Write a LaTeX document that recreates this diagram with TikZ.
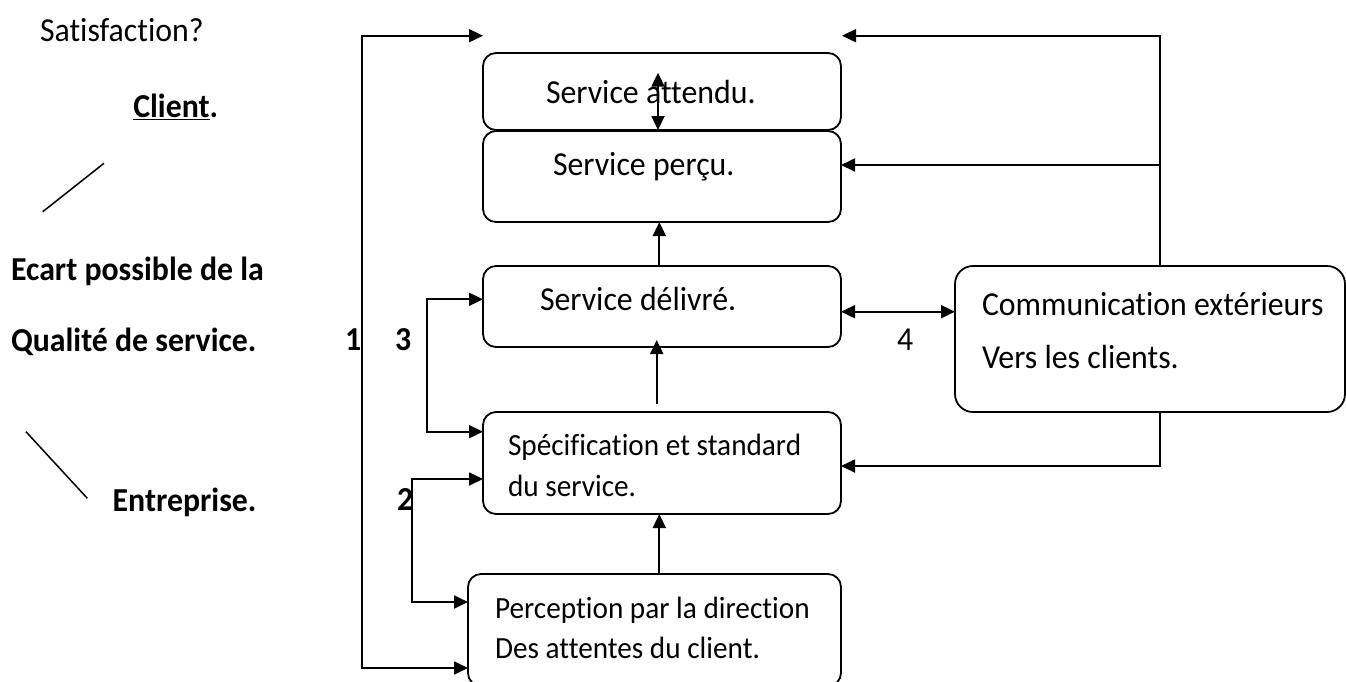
\documentclass[tikz,border=0pt]{standalone}
\usepackage{fontspec}
\setmainfont{Carlito}[Ligatures=NoCommon, FakeStretch=0.95]
\usetikzlibrary{arrows.meta,calc}
\tikzset{
  box/.style={draw, line width=1.8pt, rounded corners=13pt, inner sep=0pt, outer sep=0pt},
  lbl/.style={anchor=base west, inner sep=0pt, outer sep=0pt, font=\fontsize{33.5}{40}\selectfont},
  lblsmall/.style={lbl, font=\fontsize{30.8}{36}\selectfont},
  lblbold/.style={lbl, font=\fontsize{33.5}{40}\selectfont\bfseries},
  tip/.tip={Triangle[length=14pt,width=13pt]},
  conn/.style={line width=1.8pt, -tip},
  dconn/.style={line width=1.8pt, tip-tip},
  stroke/.style={line width=1.5pt},
}
\begin{document}
\begin{tikzpicture}[x=1pt,y=-1pt]
\useasboundingbox (0,0) rectangle (1346,681);

% boxes of the model
\node[box, minimum width=358pt, minimum height=77pt]  (att)  at (662,91.5)  {};
\node[box, minimum width=358pt, minimum height=91pt]  (per)  at (662,176.5) {};
\node[box, minimum width=358pt, minimum height=81pt]  (del)  at (662,306.5) {};
\node[box, minimum width=358pt, minimum height=102pt] (spec) at (662,463)   {};
\node[box, minimum width=373pt, minimum height=112pt] (perc) at (654.5,630) {};
\node[box, rounded corners=18pt, minimum width=390pt, minimum height=146pt] (comm) at (1150,339) {};

% box texts
\node[lbl] (tatt) at (546,103.5) {Service attendu.};
\node[lbl] (tper) at (553,175) {Service perçu.};
\node[lbl] (tdel) at (540,310.5) {Service délivré.};
\node[lblsmall] (tspecA) at (508,455) {Spécification et standard};
\node[lblsmall] (tspecB) at (508,496) {du service.};
\node[lblsmall] (tpercA) at (495,618) {Perception par la direction};
\node[lblsmall] (tpercB) at (495,658) {Des attentes du client.};
\node[lbl] (tcommA) at (982,315) {Communication extérieurs};
\node[lbl] (tcommB) at (982,368) {Vers les clients.};

% left column
\node[lbl] (sat) at (40,41.7) {Satisfaction?};
\node[lblbold] (cli) at (133.3,117.3) {\underline{Client}.};
\node[lblbold] (ecA) at (11,280) {Ecart possible de la};
\node[lblbold] (ecB) at (11,351.7) {Qualité de service.};
\node[lblbold] (ent) at (112.7,511.7) {Entreprise.};
\draw[stroke] (42.7,211.7) -- (104,163.3);
\draw[stroke] (26,431.7) -- (87.3,498.3);

% gap numbers
\node[lblbold] (n1) at (345,350.7) {1};
\node[lblbold] (n3) at (395,350.7) {3};
\node[lblbold] (n2) at (397,510) {2};
\node[lbl] (n4) at (897,350.7) {4};

% bend points
\coordinate (tl) at (483,35.7);
\coordinate (tr) at (842,35.7);
\coordinate (b1) at (362,668);
\coordinate (b2t) at (412,479);
\coordinate (b2b) at (412,602);
\coordinate (b3t) at (427,299.3);
\coordinate (b3b) at (427,431.7);
\coordinate (c4) at (900,311.7);
\coordinate (v1) at (658,0);
\coordinate (v2) at (659.3,0);
\coordinate (v3) at (656.7,0);
\coordinate (rx) at (1160,0);
\coordinate (rm) at (1160,165);
\coordinate (rb) at (1160,466);

% gap 1
\draw[dconn] (tl) -| (b1) -- (b1 -| perc.west);
% gap 2
\draw[dconn] (b2t -| spec.west) -- (b2t) -- (b2b) -- (b2b -| perc.west);
% gap 3
\draw[dconn] (b3t -| del.west) -- (b3t) -- (b3b) -- (b3b -| spec.west);
% gap 4
\draw[dconn] (c4 -| del.east) -- (c4 -| comm.west);

% vertical flow
\draw[dconn] ($(v1 |- att.north)+(0,19.7)$) -- (v1 |- att.south);
\draw[conn] (v2 |- del.north) -- (v2 |- per.south);
\draw[conn] ($(v3 |- spec.north)+(0,-8)$) -- ($(v3 |- del.south)+(0,-7)$);
\draw[conn] (v2 |- perc.north) -- (v2 |- spec.south);

% external communication feedback
\draw[conn] (rx |- comm.north) |- (tr);
\draw[conn] (rm) -- (rm -| per.east);
\draw[conn] (rx |- comm.south) -- (rb) -- (rb -| spec.east);
\end{tikzpicture}
\end{document}
